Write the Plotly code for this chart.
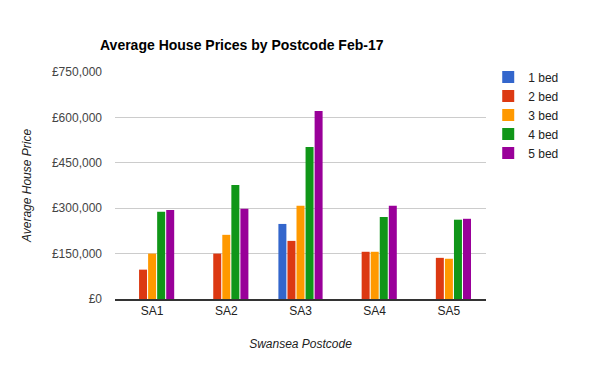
import plotly.graph_objects as go

categories = ["SA1", "SA2", "SA3", "SA4", "SA5"]
series_names = ["1 bed", "2 bed", "3 bed", "4 bed", "5 bed"]
bed1 = [None, None, 248000, None, None]
bed2 = [97000, 150000, 192000, 156000, 136000]
bed3 = [150000, 212000, 308000, 156000, 133000]
bed4 = [288000, 377000, 502000, 271000, 262000]
bed5 = [294000, 298000, 621000, 308000, 265000]
colors = ["#3366cc", "#dc3912", "#ff9900", "#109618", "#990099"]
tick_vals = [0, 150000, 300000, 450000, 600000, 750000]
tick_text = ["£0", "£150,000", "£300,000", "£450,000", "£600,000", "£750,000"]

FONT = "Arial, Liberation Sans, sans-serif"

# page body has an 8px default margin, so the figure is sized/offset for it
W, H = 592, 363

fig = go.Figure()
for name, vals, c in zip(series_names, [bed1, bed2, bed3, bed4, bed5], colors):
    fig.add_trace(go.Bar(x=categories, y=vals, name=name, marker_color=c, marker_line_width=0))

fig.update_layout(
    width=W, height=H,
    margin=dict(l=107, r=114, t=64, b=72),
    paper_bgcolor="white", plot_bgcolor="white",
    font=dict(family=FONT, size=12, color="#444444"),
    title=dict(text="<b>Average House Prices by Postcode Feb-17</b>",
               font=dict(family=FONT, size=14, color="#000000"),
               x=92/W, xanchor="left", y=1-37/H, yanchor="middle"),
    barmode="group", bargap=0.39, bargroupgap=0.117,
    legend=dict(x=1.006, xanchor="left", y=1.042, yanchor="top",
                font=dict(family=FONT, size=12, color="#222222"),
                tracegroupgap=0),
    showlegend=True,
)
fig.update_xaxes(
    showgrid=False, showline=True, linecolor="#333333", linewidth=1.5,
    ticks="", tickfont=dict(size=12, color="#222222"),
    title=dict(text="<i>Swansea Postcode</i>", font=dict(size=12, color="#222222"), standoff=22),
)
fig.update_yaxes(
    range=[0, 750000], tickvals=tick_vals, ticktext=tick_text,
    showgrid=True, gridcolor="#cccccc", gridwidth=1, zeroline=False,
    ticks="", ticklabelstandoff=12, tickfont=dict(size=12, color="#444444"),
    title=dict(text="<i>Average House Price</i>", font=dict(size=12, color="#222222"), standoff=17),
)

fig.write_html("out.html")
